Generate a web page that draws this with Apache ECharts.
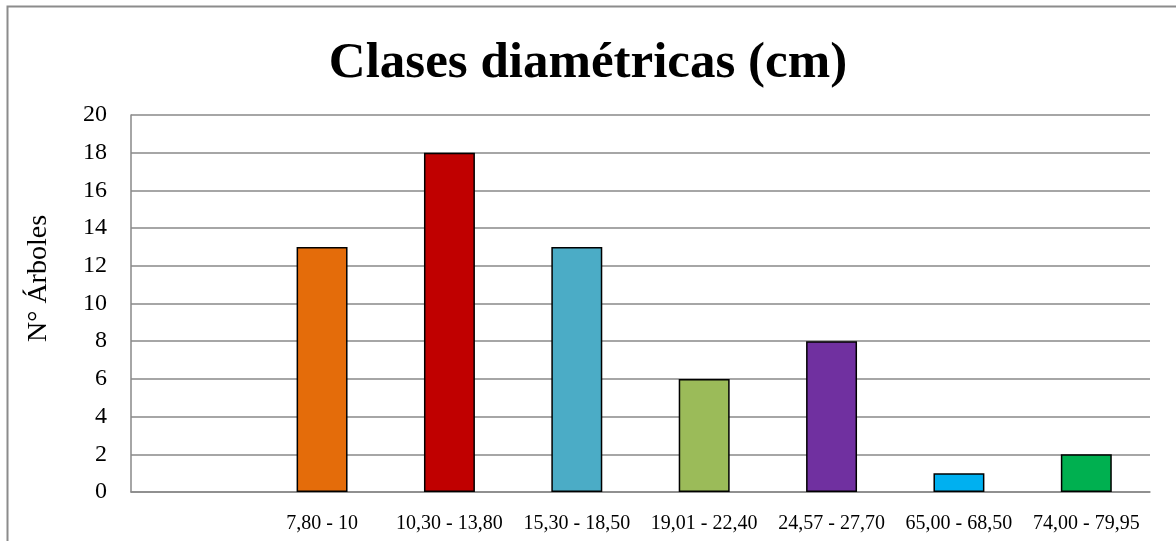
<!DOCTYPE html>
<html>
<head>
<meta charset="utf-8">
<script src="https://cdn.jsdelivr.net/npm/echarts@6/dist/echarts.min.js"></script>
<style>
  html, body { margin: 0; padding: 0; background: #fff; }
  #chart { width: 1176px; height: 541px; }
</style>
</head>
<body>
<div id="chart"></div>
<script>
// Diameter classes (cm) and number of trees per class
const categories = ['', '7,80 - 10', '10,30 - 13,80', '15,30 - 18,50', '19,01 - 22,40', '24,57 - 27,70', '65,00 - 68,50', '74,00 - 79,95'];
const treeCounts = [null, 13, 18, 13, 6, 8, 1, 2];
const barColors = ['#ffffff', '#E46C0A', '#C00000', '#4BACC6', '#9BBB59', '#7030A0', '#00B0F0', '#00B050'];

const serif = '"Liberation Serif", "Times New Roman", serif';
const chart = echarts.init(document.getElementById('chart'), null, { renderer: 'canvas' });

chart.setOption({
  backgroundColor: '#ffffff',
  animation: false,
  graphic: [{
    type: 'rect',
    shape: { x: 7.5, y: 6.5, width: 1200, height: 600 },
    style: { fill: 'none', stroke: '#8c8c8c', lineWidth: 2 },
    silent: true
  }],
  title: {
    text: 'Clases diamétricas (cm)',
    left: 'center',
    top: 33,
    textStyle: { fontFamily: serif, fontSize: 51, fontWeight: 'bold', color: '#000' }
  },
  grid: { left: 131, right: 26, top: 115, bottom: 49 },
  xAxis: {
    type: 'category',
    data: categories,
    axisLine: { lineStyle: { color: '#898989', width: 1.5 } },
    axisTick: { show: false },
    axisLabel: { fontFamily: serif, fontSize: 20, color: '#000', margin: 22, interval: 0 }
  },
  yAxis: {
    type: 'value',
    min: 0, max: 20, interval: 2,
    name: 'N° Árboles',
    nameLocation: 'middle',
    nameGap: 78,
    nameTextStyle: { fontFamily: serif, fontSize: 28, color: '#000', padding: [0, 0, 0, 50] },
    axisLine: { show: true, lineStyle: { color: '#898989', width: 1.5 } },
    axisTick: { show: false },
    axisLabel: { fontFamily: serif, fontSize: 24, color: '#000', margin: 24 },
    splitLine: { lineStyle: { color: '#898989', width: 1.5 } }
  },
  series: [{
    type: 'bar',
    data: treeCounts.map((v, i) => ({ value: v, itemStyle: { color: barColors[i] } })),
    barWidth: '40%',
    itemStyle: { borderColor: '#000', borderWidth: 1.5 }
  }]
});
</script>
</body>
</html>
